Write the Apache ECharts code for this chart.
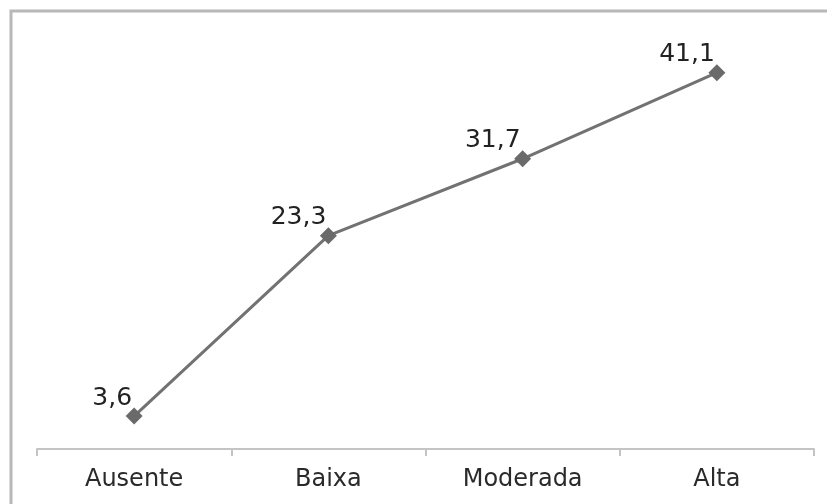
<!DOCTYPE html>
<html>
<head>
<meta charset="utf-8">
<script src="https://cdn.jsdelivr.net/npm/echarts@6/dist/echarts.min.js"></script>
<style>
    html, body { margin: 0; padding: 0; background: #fff; }
    #chart { width: 827px; height: 504px; }
</style>
</head>
<body>
<div id="chart"></div>
<script>
    var categories = ['Ausente', 'Baixa', 'Moderada', 'Alta'];
    var values = [3.6, 23.3, 31.7, 41.1];

    var chart = echarts.init(document.getElementById('chart'));
    var option = {
        animation: false,
        backgroundColor: '#fff',
        textStyle: { fontFamily: 'DejaVu Sans' },
        graphic: [{
            type: 'rect',
            shape: { x: 11, y: 11, width: 900, height: 600 },
            style: { fill: 'none', stroke: '#b8b8b8', lineWidth: 3 },
            silent: true
        }],
        grid: { left: 37, right: 13, top: 37, bottom: 55 },
        xAxis: {
            type: 'category',
            data: categories,
            boundaryGap: true,
            axisLine: { lineStyle: { color: '#c4c4c4', width: 2 } },
            axisTick: { show: true, length: 7, lineStyle: { color: '#c4c4c4', width: 2 } },
            axisLabel: { color: '#2a2a2a', fontSize: 24, margin: 19 }
        },
        yAxis: {
            type: 'value',
            min: 0,
            max: 45,
            show: false
        },
        series: [{
            type: 'line',
            data: values,
            symbol: 'diamond',
            symbolSize: 17,
            itemStyle: { color: '#6a6a6a' },
            lineStyle: { color: '#727272', width: 3 },
            label: {
                show: true,
                position: 'top',
                align: 'right',
                distance: 2,
                offset: [-2, 5],
                color: '#222',
                fontSize: 25,
                formatter: function (p) {
                    return String(p.value).replace('.', ',');
                }
            }
        }]
    };
    chart.setOption(option);
</script>
</body>
</html>
